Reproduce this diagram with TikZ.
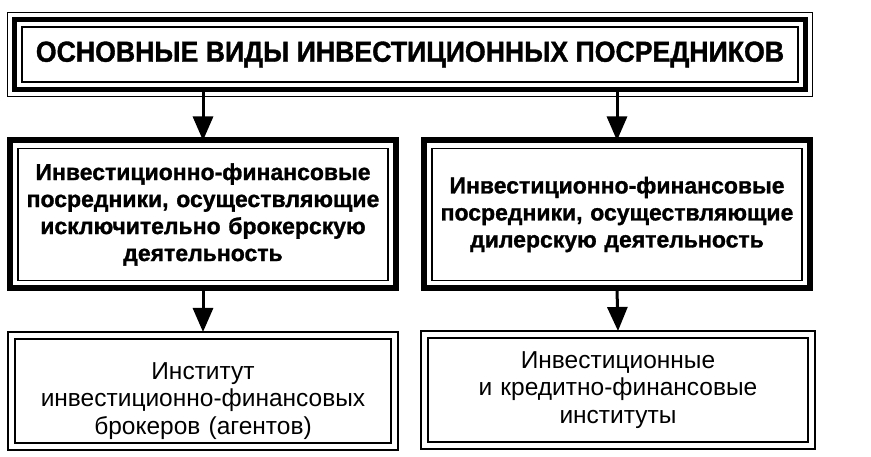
\documentclass[tikz,border=0pt]{standalone}
\usepackage{fontspec}
\setmainfont{Liberation Sans}
\newfontfamily\titlefont{Liberation Sans}[FakeStretch=0.92, FakeBold=1.2]
\newfontfamily\heavyfont{Liberation Sans}[FakeBold=1.2]
\usetikzlibrary{arrows.meta}

\begin{document}
\begin{tikzpicture}[x=1pt,y=-1pt,
  box/.style={draw, line width=1.8pt, inner sep=0pt, outer sep=0pt, align=center},
  heavybox/.style={box, line width=6pt, minimum width=386pt, minimum height=148pt, text width=380pt, font=\heavyfont\bfseries\fontsize{23}{27}\selectfont},
  lightbox/.style={box, minimum height=118pt, text width=380pt, font=\fontsize{24.5}{27.5}\selectfont},
  arrow/.style={line width=3pt, -{Triangle[width=20pt,length=24pt]}}]

\useasboundingbox (0,0) rectangle (871,457);

\node[box, line width=5pt, minimum width=791pt, minimum height=70pt, font=\titlefont\bfseries\fontsize{29}{32}\selectfont] (title) at (410,54.5) {ОСНОВНЫЕ ВИДЫ ИНВЕСТИЦИОННЫХ ПОСРЕДНИКОВ};

\node[heavybox] (midL) at (203,214.5) {Инвестиционно-финансовые\\посредники, осуществляющие\\исключительно брокерскую\\деятельность};
\node[heavybox] (midR) at (617,214.5) {Инвестиционно-финансовые\\посредники, осуществляющие\\дилерскую деятельность};

\node[lightbox, minimum width=390pt] (botL) at (203,391) {\rule{0pt}{37pt}Институт\\инвестиционно-финансовых\\брокеров (агентов)};
\node[lightbox, minimum width=394pt] (botR) at (618,390) {Инвестиционные\\и кредитно-финансовые\\институты};

\draw[line width=1.8pt] ([shift={(-7pt,7pt)}]title.north west) rectangle ([shift={(7pt,-7pt)}]title.south east);
\foreach \n/\d in {title/7.5pt, midL/8pt, midR/8pt, botL/7pt, botR/7pt}
  \draw[line width=1.8pt] ([shift={(\d,-\d)}]\n.north west) rectangle ([shift={(-\d,\d)}]\n.south east);

\draw[arrow] (title.south -| midL.north) -- (midL.north);
\draw[arrow] (title.south -| midR.north) -- (midR.north);
\draw[arrow] (midL.south) -- (botL.north);
\draw[arrow] (midR.south) -- (botR.north);

\end{tikzpicture}
\end{document}
